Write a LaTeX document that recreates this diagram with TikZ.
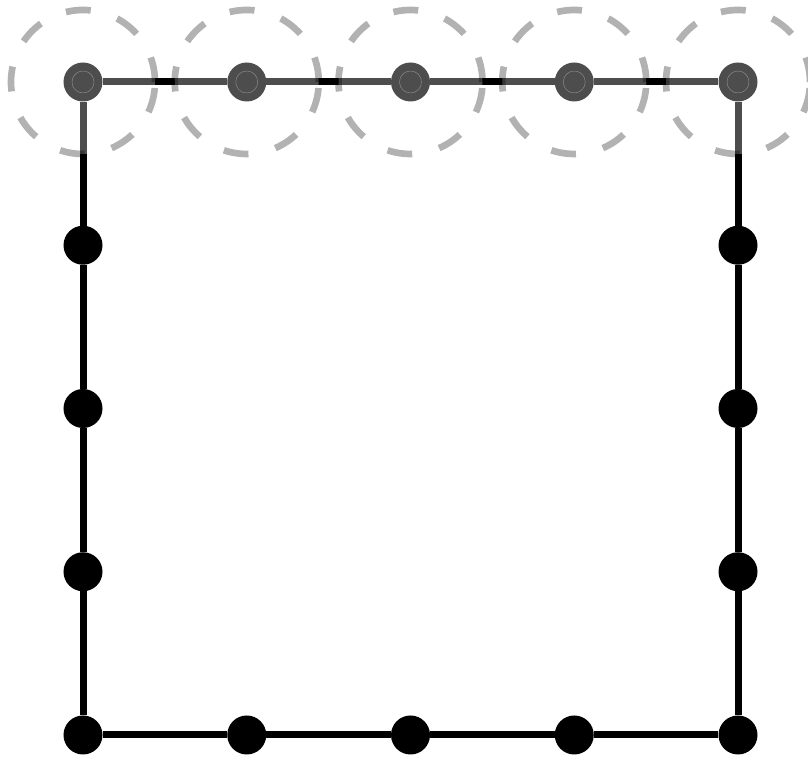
\documentclass[tikz,border=0pt]{standalone}
\begin{document}
\begin{tikzpicture}[x=0.03cm, y=0.03cm, line join=round,
    vertex/.style={circle, fill=black, inner sep=0pt, minimum size=1.17cm},
    rim/.style={black, line width=0.21cm},
    halo/.style={fill=white, draw=black, opacity=0.3, line width=0.2cm,
                 dash pattern=on 0.75cm off 0.83cm},
    core/.style={draw=black!45, line width=0.4pt}]
  \useasboundingbox (0,0) rectangle (808,759);
  % --- vertices ------------------------------------------------
  \foreach \i in {0,...,4} {
    \node[vertex] (t\i) at (83+163.75*\i, 677) {};
    \node[vertex] (b\i) at (83+163.75*\i, 24) {};
  }
  \foreach \j in {1,2,3} {
    \node[vertex] (l\j) at (83, 677-163.25*\j) {};
    \node[vertex] (r\j) at (738, 677-163.25*\j) {};
  }
  % --- boundary ------------------------------------------------
  \draw[rim] (t0) -- (t1) -- (t2) -- (t3) -- (t4)
             -- (r1) -- (r2) -- (r3) -- (b4)
             -- (b3) -- (b2) -- (b1) -- (b0)
             -- (l3) -- (l2) -- (l1) -- (t0);
  % --- halos on the top row ------------------------------------
  \foreach \i in {0,...,4} {
    \draw[halo] (t\i) circle [radius=72];
    \draw[core] (t\i) circle [radius=11];
  }
\end{tikzpicture}
\end{document}
